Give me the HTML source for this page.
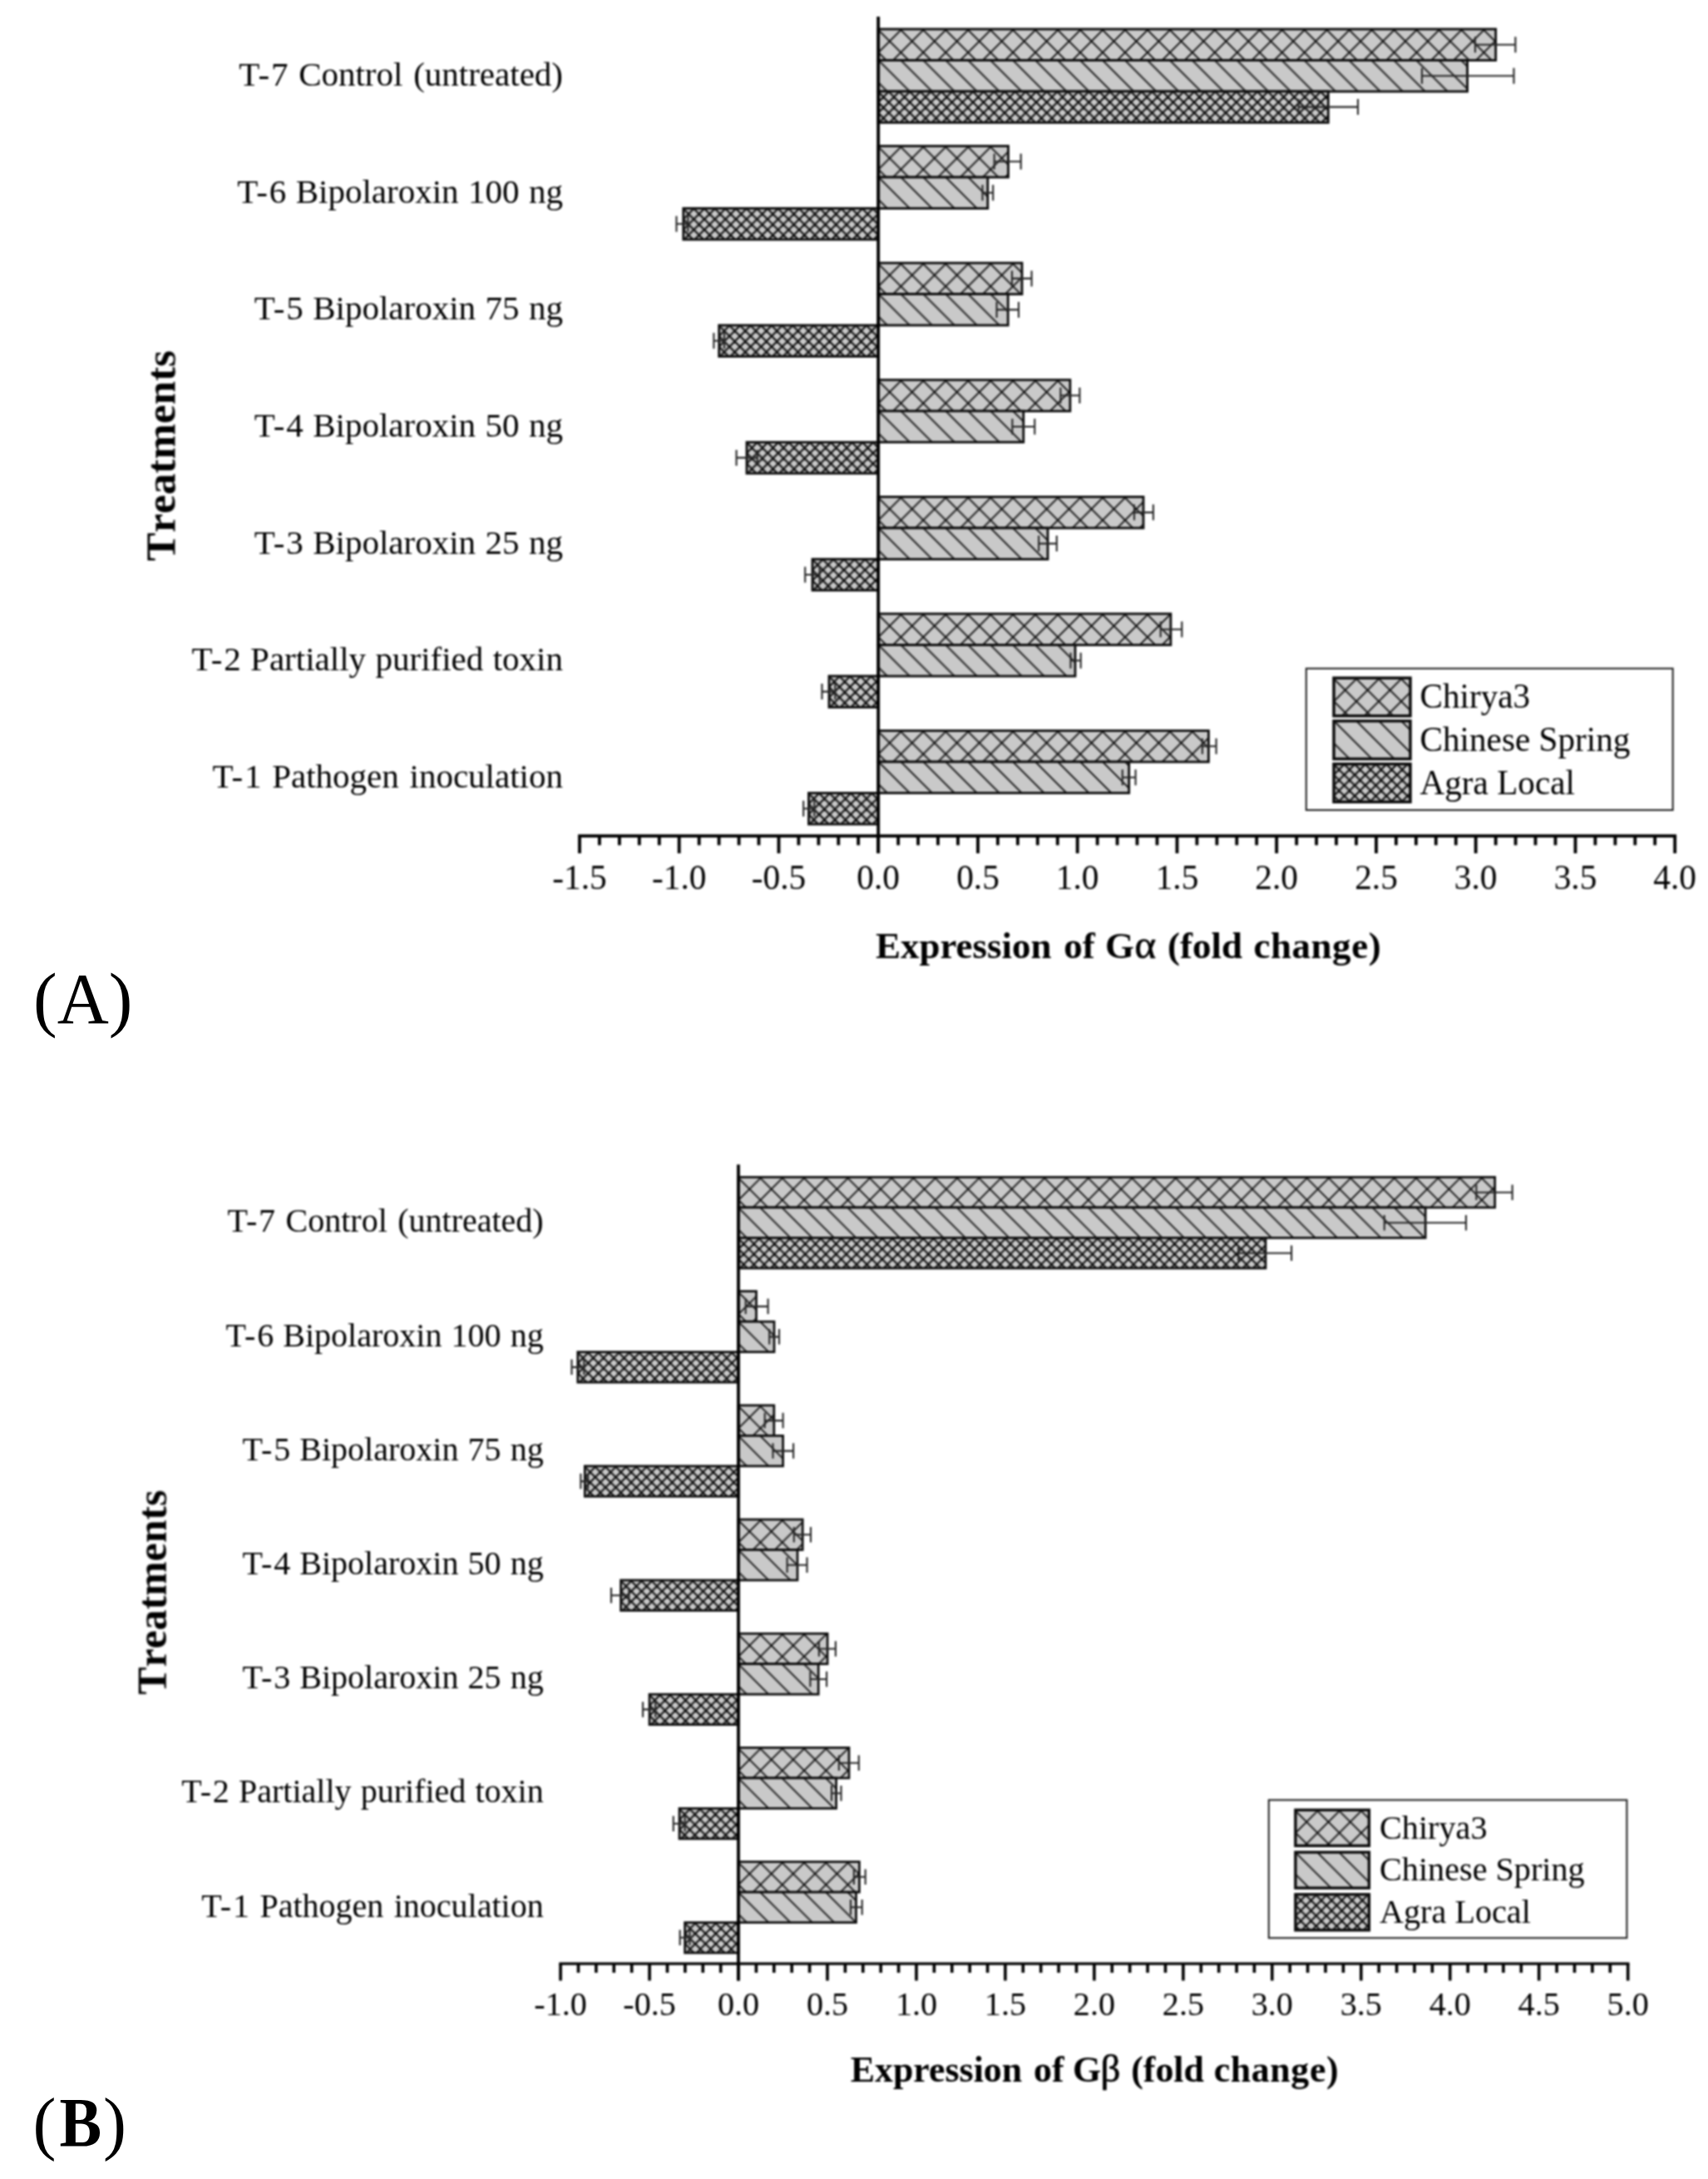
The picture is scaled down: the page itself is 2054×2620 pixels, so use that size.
<!DOCTYPE html>
<html><head><meta charset="utf-8"><title>Figure</title>
<style>
html,body{margin:0;padding:0;background:#fff;}
svg{display:block;}
#charta,#chartb{filter:blur(0.8px);}
text{font-family:'Liberation Serif', 'DejaVu Serif', serif;fill:#000;}
.b{font-weight:bold;}
</style></head><body>
<svg width="2054" height="2620" viewBox="0 0 2054 2620">
<defs>
<pattern id="p1a" patternUnits="userSpaceOnUse" width="26.965" height="26.965" x="0.2" y="1.1"><rect width="26.965" height="26.965" fill="#c9c9c9"/><path d="M0 0L26.965 26.965M-26.965 0L26.965 53.93M0 -26.965L53.93 26.965M0 26.965L26.965 0M-26.965 26.965L26.965 -26.965M0 53.93L53.93 0" stroke="#0c0c0c" stroke-width="1.8" fill="none"/></pattern>
<pattern id="p2a" patternUnits="userSpaceOnUse" width="26.95" height="26.95" x="0.3" y="0.0"><rect width="26.95" height="26.95" fill="#c9c9c9"/><path d="M0 0L26.95 26.95M-26.95 0L26.95 53.9M0 -26.95L53.9 26.95" stroke="#0c0c0c" stroke-width="1.8" fill="none"/></pattern>
<pattern id="p3a" patternUnits="userSpaceOnUse" width="12.667" height="12.667" x="-0.1" y="0.4"><rect width="12.667" height="12.667" fill="#c9c9c9"/><path d="M0 0L12.667 12.667M-12.667 0L12.667 25.334M0 -12.667L25.334 12.667M0 12.667L12.667 0M-12.667 12.667L12.667 -12.667M0 25.334L25.334 0" stroke="#0c0c0c" stroke-width="2.2" fill="none"/></pattern>
<pattern id="p1b" patternUnits="userSpaceOnUse" width="26.286" height="26.286" x="0.2" y="1.2"><rect width="26.286" height="26.286" fill="#c9c9c9"/><path d="M0 0L26.286 26.286M-26.286 0L26.286 52.572M0 -26.286L52.572 26.286M0 26.286L26.286 0M-26.286 26.286L26.286 -26.286M0 52.572L52.572 0" stroke="#0c0c0c" stroke-width="1.75" fill="none"/></pattern>
<pattern id="p2b" patternUnits="userSpaceOnUse" width="26.3" height="26.3" x="-0.2" y="0.0"><rect width="26.3" height="26.3" fill="#c9c9c9"/><path d="M0 0L26.3 26.3M-26.3 0L26.3 52.6M0 -26.3L52.6 26.3" stroke="#0c0c0c" stroke-width="1.75" fill="none"/></pattern>
<pattern id="p3b" patternUnits="userSpaceOnUse" width="12.337" height="12.337" x="0.2" y="1.0"><rect width="12.337" height="12.337" fill="#c9c9c9"/><path d="M0 0L12.337 12.337M-12.337 0L12.337 24.674M0 -12.337L24.674 12.337M0 12.337L12.337 0M-12.337 12.337L12.337 -12.337M0 24.674L24.674 0" stroke="#0c0c0c" stroke-width="2.15" fill="none"/></pattern>
</defs>
<rect width="2054" height="2620" fill="#fff"/>
<g id="charta">
<rect transform="translate(1056.2 35.0)" width="742.5" height="37.5" fill="url(#p1a)" stroke="#0c0c0c" stroke-width="2.8"/>
<rect transform="translate(1056.2 72.5)" width="708.4" height="37.5" fill="url(#p2a)" stroke="#0c0c0c" stroke-width="2.8"/>
<rect transform="translate(1056.2 109.9)" width="541.1" height="37.5" fill="url(#p3a)" stroke="#0c0c0c" stroke-width="2.8"/>
<rect transform="translate(1056.2 175.6)" width="156.3" height="37.5" fill="url(#p1a)" stroke="#0c0c0c" stroke-width="2.8"/>
<rect transform="translate(1056.2 213.1)" width="131.6" height="37.5" fill="url(#p2a)" stroke="#0c0c0c" stroke-width="2.8"/>
<rect transform="translate(821.8 250.5)" width="234.4" height="37.5" fill="url(#p3a)" stroke="#0c0c0c" stroke-width="2.8"/>
<rect transform="translate(1056.2 316.2)" width="172.8" height="37.5" fill="url(#p1a)" stroke="#0c0c0c" stroke-width="2.8"/>
<rect transform="translate(1056.2 353.6)" width="156.0" height="37.5" fill="url(#p2a)" stroke="#0c0c0c" stroke-width="2.8"/>
<rect transform="translate(864.7 391.1)" width="191.5" height="37.5" fill="url(#p3a)" stroke="#0c0c0c" stroke-width="2.8"/>
<rect transform="translate(1056.2 456.8)" width="230.7" height="37.5" fill="url(#p1a)" stroke="#0c0c0c" stroke-width="2.8"/>
<rect transform="translate(1056.2 494.2)" width="174.6" height="37.5" fill="url(#p2a)" stroke="#0c0c0c" stroke-width="2.8"/>
<rect transform="translate(898.0 531.7)" width="158.2" height="37.5" fill="url(#p3a)" stroke="#0c0c0c" stroke-width="2.8"/>
<rect transform="translate(1056.2 597.4)" width="318.8" height="37.5" fill="url(#p1a)" stroke="#0c0c0c" stroke-width="2.8"/>
<rect transform="translate(1056.2 634.9)" width="203.8" height="37.5" fill="url(#p2a)" stroke="#0c0c0c" stroke-width="2.8"/>
<rect transform="translate(977.0 672.3)" width="79.2" height="37.5" fill="url(#p3a)" stroke="#0c0c0c" stroke-width="2.8"/>
<rect transform="translate(1056.2 738.0)" width="351.7" height="37.5" fill="url(#p1a)" stroke="#0c0c0c" stroke-width="2.8"/>
<rect transform="translate(1056.2 775.5)" width="236.8" height="37.5" fill="url(#p2a)" stroke="#0c0c0c" stroke-width="2.8"/>
<rect transform="translate(997.0 812.9)" width="59.2" height="37.5" fill="url(#p3a)" stroke="#0c0c0c" stroke-width="2.8"/>
<rect transform="translate(1056.2 878.6)" width="397.2" height="37.5" fill="url(#p1a)" stroke="#0c0c0c" stroke-width="2.8"/>
<rect transform="translate(1056.2 916.0)" width="301.5" height="37.5" fill="url(#p2a)" stroke="#0c0c0c" stroke-width="2.8"/>
<rect transform="translate(972.5 953.5)" width="83.7" height="37.5" fill="url(#p3a)" stroke="#0c0c0c" stroke-width="2.8"/>
<g stroke="#262626" stroke-width="2.1" fill="none">
<path d="M1774.0 53.7H1822.4M1774.0 44.2V63.2M1822.4 44.2V63.2"/>
<path d="M1710.0 91.2H1820.5M1710.0 81.7V100.7M1820.5 81.7V100.7"/>
<path d="M1561.6 128.6H1633.0M1561.6 119.1V138.1M1633.0 119.1V138.1"/>
<path d="M1195.7 194.3H1227.7M1195.7 184.8V203.8M1227.7 184.8V203.8"/>
<path d="M1181.5 231.8H1194.2M1181.5 222.3V241.3M1194.2 222.3V241.3"/>
<path d="M813.5 269.2H827.4M813.5 259.7V278.7M827.4 259.7V278.7"/>
<path d="M1217.0 334.9H1240.6M1217.0 325.4V344.4M1240.6 325.4V344.4"/>
<path d="M1198.6 372.4H1225.0M1198.6 362.9V381.9M1225.0 362.9V381.9"/>
<path d="M858.4 409.8H871.0M858.4 400.3V419.3M871.0 400.3V419.3"/>
<path d="M1275.4 475.5H1298.4M1275.4 466.0V485.0M1298.4 466.0V485.0"/>
<path d="M1217.4 513.0H1244.3M1217.4 503.5V522.5M1244.3 503.5V522.5"/>
<path d="M885.6 550.4H910.8M885.6 540.9V559.9M910.8 540.9V559.9"/>
<path d="M1364.0 616.1H1386.9M1364.0 606.6V625.6M1386.9 606.6V625.6"/>
<path d="M1249.2 653.6H1270.8M1249.2 644.1V663.1M1270.8 644.1V663.1"/>
<path d="M968.2 691.0H985.6M968.2 681.5V700.5M985.6 681.5V700.5"/>
<path d="M1395.7 756.7H1421.3M1395.7 747.2V766.2M1421.3 747.2V766.2"/>
<path d="M1287.5 794.2H1299.7M1287.5 784.7V803.7M1299.7 784.7V803.7"/>
<path d="M988.5 831.6H1004.3M988.5 822.1V841.1M1004.3 822.1V841.1"/>
<path d="M1445.9 897.3H1462.6M1445.9 887.8V906.8M1462.6 887.8V906.8"/>
<path d="M1349.8 934.8H1365.6M1349.8 925.3V944.3M1365.6 925.3V944.3"/>
<path d="M966.2 972.2H979.3M966.2 962.7V981.7M979.3 962.7V981.7"/>
</g>
<g stroke="#000" stroke-width="3.8" fill="none" stroke-linecap="butt">
<path d="M1056.2 20.0V1026.0"/>
<path stroke-width="3.7" d="M695.1 1005.2H2016.1"/>
<path stroke-width="3.8" d="M697.0 1005.2V1026.0M720.9 1005.2V1016.3M744.9 1005.2V1016.3M768.8 1005.2V1016.3M792.8 1005.2V1016.3M816.7 1005.2V1026.0M840.7 1005.2V1016.3M864.6 1005.2V1016.3M888.6 1005.2V1016.3M912.5 1005.2V1016.3M936.5 1005.2V1026.0M960.4 1005.2V1016.3M984.4 1005.2V1016.3M1008.3 1005.2V1016.3M1032.2 1005.2V1016.3M1056.2 1005.2V1026.0M1080.2 1005.2V1016.3M1104.1 1005.2V1016.3M1128.0 1005.2V1016.3M1152.0 1005.2V1016.3M1176.0 1005.2V1026.0M1199.9 1005.2V1016.3M1223.9 1005.2V1016.3M1247.8 1005.2V1016.3M1271.8 1005.2V1016.3M1295.7 1005.2V1026.0M1319.7 1005.2V1016.3M1343.6 1005.2V1016.3M1367.5 1005.2V1016.3M1391.5 1005.2V1016.3M1415.5 1005.2V1026.0M1439.4 1005.2V1016.3M1463.4 1005.2V1016.3M1487.3 1005.2V1016.3M1511.2 1005.2V1016.3M1535.2 1005.2V1026.0M1559.2 1005.2V1016.3M1583.1 1005.2V1016.3M1607.0 1005.2V1016.3M1631.0 1005.2V1016.3M1655.0 1005.2V1026.0M1678.9 1005.2V1016.3M1702.9 1005.2V1016.3M1726.8 1005.2V1016.3M1750.8 1005.2V1016.3M1774.7 1005.2V1026.0M1798.7 1005.2V1016.3M1822.6 1005.2V1016.3M1846.5 1005.2V1016.3M1870.5 1005.2V1016.3M1894.5 1005.2V1026.0M1918.4 1005.2V1016.3M1942.4 1005.2V1016.3M1966.3 1005.2V1016.3M1990.2 1005.2V1016.3M2014.2 1005.2V1026.0"/>
</g>
<g font-size="41.4" text-anchor="middle">
<text x="697.0" y="1068.9">-1.5</text>
<text x="816.7" y="1068.9">-1.0</text>
<text x="936.5" y="1068.9">-0.5</text>
<text x="1056.2" y="1068.9">0.0</text>
<text x="1176.0" y="1068.9">0.5</text>
<text x="1295.7" y="1068.9">1.0</text>
<text x="1415.5" y="1068.9">1.5</text>
<text x="1535.2" y="1068.9">2.0</text>
<text x="1655.0" y="1068.9">2.5</text>
<text x="1774.7" y="1068.9">3.0</text>
<text x="1894.5" y="1068.9">3.5</text>
<text x="2014.2" y="1068.9">4.0</text>
</g>
<g font-size="41.0" text-anchor="end">
<text x="677.0" y="103.2"><tspan letter-spacing="1.8">T-</tspan><tspan word-spacing="2.5">7 Control (untreated)</tspan></text>
<text x="677.0" y="243.8"><tspan letter-spacing="1.8">T-</tspan><tspan word-spacing="1.2">6 Bipolaroxin 100 ng</tspan></text>
<text x="677.0" y="384.4"><tspan letter-spacing="1.8">T-</tspan><tspan word-spacing="1.2">5 Bipolaroxin 75 ng</tspan></text>
<text x="677.0" y="525.0"><tspan letter-spacing="1.8">T-</tspan><tspan word-spacing="1.2">4 Bipolaroxin 50 ng</tspan></text>
<text x="677.0" y="665.6"><tspan letter-spacing="1.8">T-</tspan><tspan word-spacing="1.2">3 Bipolaroxin 25 ng</tspan></text>
<text x="677.0" y="806.2"><tspan letter-spacing="1.8">T-</tspan><tspan word-spacing="1.2">2 Partially purified toxin</tspan></text>
<text x="677.0" y="946.8"><tspan letter-spacing="1.8">T-</tspan><tspan word-spacing="2.5">1 Pathogen inoculation</tspan></text>
</g>
<text class="b" font-size="51.3" text-anchor="middle" style="font-kerning:none" transform="translate(210.4 547.9) rotate(-90)">Treatments</text>
<text class="b" font-size="45.0" y="1151.5"><tspan x="1052.9">Expression </tspan><tspan x="1279.2">of </tspan><tspan x="1329.1">G</tspan><tspan x="1364.5" font-weight="normal" font-size="49" stroke="#000" stroke-width="0.7">α </tspan><tspan x="1404.0">(fold </tspan><tspan x="1507.4" letter-spacing="0.55">change)</tspan></text>
<rect x="1570.8" y="803.8" width="440.9" height="170.2" fill="#fff" stroke="#1e1e1e" stroke-width="2"/>
<rect transform="translate(1604.0 815.2)" width="92.0" height="45.6" fill="url(#p1a)" stroke="#0c0c0c" stroke-width="3.5"/>
<text font-size="41.2" x="1707.5" y="851.4">Chirya3</text>
<rect transform="translate(1604.0 866.9)" width="92.0" height="45.6" fill="url(#p2a)" stroke="#0c0c0c" stroke-width="3.5"/>
<text font-size="41.2" x="1707.5" y="903.1">Chinese Spring</text>
<rect transform="translate(1604.0 918.6)" width="92.0" height="45.6" fill="url(#p3a)" stroke="#0c0c0c" stroke-width="3.5"/>
<text font-size="41.2" x="1707.5" y="954.8">Agra Local</text>
</g>
<g id="chartb">
<rect transform="translate(888.0 1415.4)" width="909.7" height="36.5" fill="url(#p1b)" stroke="#0c0c0c" stroke-width="2.7"/>
<rect transform="translate(888.0 1451.9)" width="826.2" height="36.5" fill="url(#p2b)" stroke="#0c0c0c" stroke-width="2.7"/>
<rect transform="translate(888.0 1488.4)" width="634.0" height="36.5" fill="url(#p3b)" stroke="#0c0c0c" stroke-width="2.7"/>
<rect transform="translate(888.0 1552.6)" width="21.5" height="36.5" fill="url(#p1b)" stroke="#0c0c0c" stroke-width="2.7"/>
<rect transform="translate(888.0 1589.1)" width="43.0" height="36.5" fill="url(#p2b)" stroke="#0c0c0c" stroke-width="2.7"/>
<rect transform="translate(694.8 1625.6)" width="193.2" height="36.5" fill="url(#p3b)" stroke="#0c0c0c" stroke-width="2.7"/>
<rect transform="translate(888.0 1689.8)" width="42.8" height="36.5" fill="url(#p1b)" stroke="#0c0c0c" stroke-width="2.7"/>
<rect transform="translate(888.0 1726.3)" width="53.6" height="36.5" fill="url(#p2b)" stroke="#0c0c0c" stroke-width="2.7"/>
<rect transform="translate(703.3 1762.8)" width="184.8" height="36.5" fill="url(#p3b)" stroke="#0c0c0c" stroke-width="2.7"/>
<rect transform="translate(888.0 1827.0)" width="77.2" height="36.5" fill="url(#p1b)" stroke="#0c0c0c" stroke-width="2.7"/>
<rect transform="translate(888.0 1863.5)" width="71.0" height="36.5" fill="url(#p2b)" stroke="#0c0c0c" stroke-width="2.7"/>
<rect transform="translate(746.6 1900.0)" width="141.4" height="36.5" fill="url(#p3b)" stroke="#0c0c0c" stroke-width="2.7"/>
<rect transform="translate(888.0 1964.2)" width="107.1" height="36.5" fill="url(#p1b)" stroke="#0c0c0c" stroke-width="2.7"/>
<rect transform="translate(888.0 2000.7)" width="96.2" height="36.5" fill="url(#p2b)" stroke="#0c0c0c" stroke-width="2.7"/>
<rect transform="translate(781.0 2037.2)" width="107.0" height="36.5" fill="url(#p3b)" stroke="#0c0c0c" stroke-width="2.7"/>
<rect transform="translate(888.0 2101.4)" width="133.0" height="36.5" fill="url(#p1b)" stroke="#0c0c0c" stroke-width="2.7"/>
<rect transform="translate(888.0 2137.9)" width="117.6" height="36.5" fill="url(#p2b)" stroke="#0c0c0c" stroke-width="2.7"/>
<rect transform="translate(817.0 2174.4)" width="71.0" height="36.5" fill="url(#p3b)" stroke="#0c0c0c" stroke-width="2.7"/>
<rect transform="translate(888.0 2238.6)" width="145.4" height="36.5" fill="url(#p1b)" stroke="#0c0c0c" stroke-width="2.7"/>
<rect transform="translate(888.0 2275.1)" width="141.5" height="36.5" fill="url(#p2b)" stroke="#0c0c0c" stroke-width="2.7"/>
<rect transform="translate(823.6 2311.6)" width="64.4" height="36.5" fill="url(#p3b)" stroke="#0c0c0c" stroke-width="2.7"/>
<g stroke="#262626" stroke-width="2.1" fill="none">
<path d="M1775.4 1433.7H1818.7M1775.4 1424.4V1442.9M1818.7 1424.4V1442.9"/>
<path d="M1664.8 1470.2H1763.0M1664.8 1460.9V1479.4M1763.0 1460.9V1479.4"/>
<path d="M1489.2 1506.7H1553.1M1489.2 1497.4V1515.9M1553.1 1497.4V1515.9"/>
<path d="M896.7 1570.9H923.6M896.7 1561.6V1580.1M923.6 1561.6V1580.1"/>
<path d="M925.2 1607.4H937.0M925.2 1598.1V1616.6M937.0 1598.1V1616.6"/>
<path d="M687.5 1643.9H702.3M687.5 1634.6V1653.1M702.3 1634.6V1653.1"/>
<path d="M919.7 1708.1H941.6M919.7 1698.8V1717.3M941.6 1698.8V1717.3"/>
<path d="M929.5 1744.6H954.1M929.5 1735.3V1753.8M954.1 1735.3V1753.8"/>
<path d="M698.4 1781.1H707.2M698.4 1771.8V1790.3M707.2 1771.8V1790.3"/>
<path d="M954.8 1845.2H975.0M954.8 1836.0V1854.5M975.0 1836.0V1854.5"/>
<path d="M946.6 1881.8H970.5M946.6 1872.5V1891.0M970.5 1872.5V1891.0"/>
<path d="M735.0 1918.2H756.4M735.0 1909.0V1927.5M756.4 1909.0V1927.5"/>
<path d="M984.9 1982.5H1004.9M984.9 1973.2V1991.7M1004.9 1973.2V1991.7"/>
<path d="M974.4 2019.0H994.1M974.4 2009.7V2028.2M994.1 2009.7V2028.2"/>
<path d="M773.1 2055.4H788.2M773.1 2046.2V2064.7M788.2 2046.2V2064.7"/>
<path d="M1008.9 2119.7H1032.8M1008.9 2110.4V2128.9M1032.8 2110.4V2128.9"/>
<path d="M1000.0 2156.2H1011.5M1000.0 2146.9V2165.4M1011.5 2146.9V2165.4"/>
<path d="M809.8 2192.7H823.6M809.8 2183.4V2201.9M823.6 2183.4V2201.9"/>
<path d="M1026.9 2256.8H1040.7M1026.9 2247.6V2266.1M1040.7 2247.6V2266.1"/>
<path d="M1023.0 2293.3H1036.7M1023.0 2284.1V2302.6M1036.7 2284.1V2302.6"/>
<path d="M817.7 2329.8H829.5M817.7 2320.6V2339.1M829.5 2320.6V2339.1"/>
</g>
<g stroke="#000" stroke-width="3.75" fill="none" stroke-linecap="butt">
<path d="M888.0 1400.3V2381.6"/>
<path stroke-width="3.3" d="M672.3 2361.2H1959.5"/>
<path stroke-width="3.6" d="M674.1 2361.2V2381.6M695.5 2361.2V2371.9M716.9 2361.2V2371.9M738.3 2361.2V2371.9M759.7 2361.2V2371.9M781.1 2361.2V2381.6M802.5 2361.2V2371.9M823.9 2361.2V2371.9M845.3 2361.2V2371.9M866.7 2361.2V2371.9M888.0 2361.2V2381.6M909.4 2361.2V2371.9M930.8 2361.2V2371.9M952.2 2361.2V2371.9M973.6 2361.2V2371.9M995.0 2361.2V2381.6M1016.4 2361.2V2371.9M1037.8 2361.2V2371.9M1059.2 2361.2V2371.9M1080.6 2361.2V2371.9M1102.0 2361.2V2381.6M1123.4 2361.2V2371.9M1144.8 2361.2V2371.9M1166.2 2361.2V2371.9M1187.6 2361.2V2371.9M1208.9 2361.2V2381.6M1230.3 2361.2V2371.9M1251.7 2361.2V2371.9M1273.1 2361.2V2371.9M1294.5 2361.2V2371.9M1315.9 2361.2V2381.6M1337.3 2361.2V2371.9M1358.7 2361.2V2371.9M1380.1 2361.2V2371.9M1401.5 2361.2V2371.9M1422.9 2361.2V2381.6M1444.3 2361.2V2371.9M1465.7 2361.2V2371.9M1487.1 2361.2V2371.9M1508.4 2361.2V2371.9M1529.8 2361.2V2381.6M1551.2 2361.2V2371.9M1572.6 2361.2V2371.9M1594.0 2361.2V2371.9M1615.4 2361.2V2371.9M1636.8 2361.2V2381.6M1658.2 2361.2V2371.9M1679.6 2361.2V2371.9M1701.0 2361.2V2371.9M1722.4 2361.2V2371.9M1743.8 2361.2V2381.6M1765.2 2361.2V2371.9M1786.6 2361.2V2371.9M1807.9 2361.2V2371.9M1829.3 2361.2V2371.9M1850.7 2361.2V2381.6M1872.1 2361.2V2371.9M1893.5 2361.2V2371.9M1914.9 2361.2V2371.9M1936.3 2361.2V2371.9M1957.7 2361.2V2381.6"/>
</g>
<g font-size="40.2" text-anchor="middle">
<text x="674.1" y="2422.8">-1.0</text>
<text x="781.1" y="2422.8">-0.5</text>
<text x="888.0" y="2422.8">0.0</text>
<text x="995.0" y="2422.8">0.5</text>
<text x="1102.0" y="2422.8">1.0</text>
<text x="1208.9" y="2422.8">1.5</text>
<text x="1315.9" y="2422.8">2.0</text>
<text x="1422.9" y="2422.8">2.5</text>
<text x="1529.8" y="2422.8">3.0</text>
<text x="1636.8" y="2422.8">3.5</text>
<text x="1743.8" y="2422.8">4.0</text>
<text x="1850.7" y="2422.8">4.5</text>
<text x="1957.7" y="2422.8">5.0</text>
</g>
<g font-size="40.0" text-anchor="end">
<text x="653.7" y="1481.3"><tspan letter-spacing="1.75">T-</tspan><tspan word-spacing="2.45">7 Control (untreated)</tspan></text>
<text x="653.7" y="1618.5"><tspan letter-spacing="1.75">T-</tspan><tspan word-spacing="1.15">6 Bipolaroxin 100 ng</tspan></text>
<text x="653.7" y="1755.7"><tspan letter-spacing="1.75">T-</tspan><tspan word-spacing="1.15">5 Bipolaroxin 75 ng</tspan></text>
<text x="653.7" y="1892.9"><tspan letter-spacing="1.75">T-</tspan><tspan word-spacing="1.15">4 Bipolaroxin 50 ng</tspan></text>
<text x="653.7" y="2030.1"><tspan letter-spacing="1.75">T-</tspan><tspan word-spacing="1.15">3 Bipolaroxin 25 ng</tspan></text>
<text x="653.7" y="2167.3"><tspan letter-spacing="1.75">T-</tspan><tspan word-spacing="1.15">2 Partially purified toxin</tspan></text>
<text x="653.7" y="2304.5"><tspan letter-spacing="1.75">T-</tspan><tspan word-spacing="2.45">1 Pathogen inoculation</tspan></text>
</g>
<text class="b" font-size="49.8" text-anchor="middle" style="font-kerning:none" transform="translate(199.7 1914.6) rotate(-90)">Treatments</text>
<text class="b" font-size="43.9" y="2503.0"><tspan x="1022.7">Expression </tspan><tspan x="1243.0">of </tspan><tspan x="1290.0">G</tspan><tspan x="1323.5" font-weight="normal" font-size="47" stroke="#000" stroke-width="0.7">β </tspan><tspan x="1360.2">(fold </tspan><tspan x="1459.7" letter-spacing="0.6">change)</tspan></text>
<rect x="1525.8" y="2164.3" width="430.6" height="165.9" fill="#fff" stroke="#1e1e1e" stroke-width="2"/>
<rect transform="translate(1557.9 2176.3)" width="88.5" height="43.0" fill="url(#p1b)" stroke="#0c0c0c" stroke-width="3.4000000000000004"/>
<text font-size="40.2" x="1659.0" y="2210.7">Chirya3</text>
<rect transform="translate(1557.9 2227.1)" width="88.5" height="43.0" fill="url(#p2b)" stroke="#0c0c0c" stroke-width="3.4000000000000004"/>
<text font-size="40.2" x="1659.0" y="2261.4">Chinese Spring</text>
<rect transform="translate(1557.9 2277.8)" width="88.5" height="43.0" fill="url(#p3b)" stroke="#0c0c0c" stroke-width="3.4000000000000004"/>
<text font-size="40.2" x="1659.0" y="2312.2">Agra Local</text>
</g>
<text font-size="86" x="40" y="1230">(A)</text>
<text font-size="84" x="39.5" y="2581">(</text>
<text class="b" font-size="84" transform="translate(71.6 2581) scale(0.905 1)">B</text>
<text font-size="84" x="124.0" y="2581">)</text>
</svg></body></html>
